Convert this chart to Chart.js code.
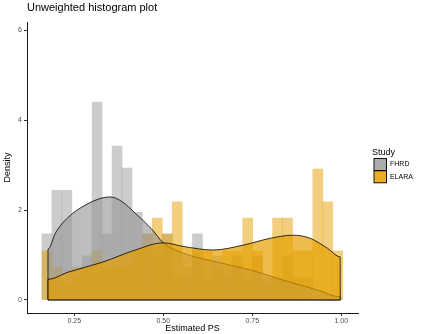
<!DOCTYPE html>
<html>
<head>
<meta charset="utf-8">
<script src="https://cdn.jsdelivr.net/npm/chart.js@4"></script>
<style>
  html, body { margin: 0; padding: 0; background: #fff; }
</style>
</head>
<body>
<canvas id="myChart" width="423" height="334"></canvas>
<script>
const chartTitle = "Unweighted histogram plot";
const legendTitle = "Study";
const studyNames = ["FHRD", "ELARA"];

// histogram bin centres (30 bins)
const binCenters = [
  0.173, 0.201, 0.229, 0.258, 0.286, 0.314, 0.342, 0.370, 0.398, 0.427,
  0.455, 0.483, 0.511, 0.539, 0.567, 0.596, 0.624, 0.652, 0.680, 0.708,
  0.737, 0.765, 0.793, 0.821, 0.849, 0.878, 0.906, 0.934, 0.962, 0.990,
];
const fhrdHist = [
  1.47, 2.44, 2.44, 0.49, 0.98, 4.40, 1.47, 3.42, 2.93, 1.95,
  1.47, 0.98, 1.47, 0.49, 0.49, 1.47, 0.49, 0.98, 0.49, 0.98,
  0.49, 0.98, 0.49, 0.49, 0.98, 0.49, 0.49, 0, 0, 0,
];
const elaraHist = [
  1.09, 0.73, 0.36, 0.73, 0.73, 1.09, 0.73, 0.73, 0.73, 1.09,
  1.46, 1.82, 1.46, 2.18, 0.73, 1.09, 1.09, 0.73, 1.09, 1.09,
  1.82, 1.09, 0.36, 1.82, 1.82, 1.09, 1.09, 2.91, 2.18, 1.09,
];

// density curves (x, density), closed down to zero at both ends
const fhrdDensX = [0.176, 0.176, 0.197, 0.233, 0.281, 0.329, 0.351, 0.385, 0.421, 0.469, 0.5, 0.556, 0.652, 0.744, 0.837, 0.933, 0.997, 0.997];
const fhrdDensY = [0, 1.13, 1.49, 1.84, 2.11, 2.27, 2.29, 2.18, 1.93, 1.56, 1.27, 1.04, 0.84, 0.67, 0.44, 0.22, 0.07, 0];
const elaraDensX = [0.176, 0.176, 0.233, 0.329, 0.421, 0.5, 0.556, 0.640, 0.725, 0.8, 0.865, 0.913, 0.961, 0.997, 0.997];
const elaraDensY = [0, 0.46, 0.62, 0.84, 1.11, 1.27, 1.19, 1.11, 1.22, 1.37, 1.44, 1.37, 1.15, 0.96, 0];

const xTicks = [0.25, 0.5, 0.75, 1.0];
const yTicks = [0, 2, 4, 6];

const barFills = ["rgba(153,153,153,0.5)", "rgba(230,159,0,0.5)"];
const densFills = ["rgba(153,153,153,0.65)", "rgba(230,159,0,0.7)"];

const toPoints = (xs, ys) => xs.map((x, i) => ({ x: x, y: ys[i] }));

const histDataset = (label, values, color, order) => {
  return {
    type: "bar",
    label: label,
    data: toPoints(binCenters, values),
    backgroundColor: color,
    borderWidth: 0,
    grouped: false,
    barPercentage: 1,
    categoryPercentage: 1,
    order: order,
  };
};

const densDataset = (label, xs, ys, color, order) => {
  return {
    type: "line",
    label: label,
    data: toPoints(xs, ys),
    backgroundColor: color,
    borderColor: "#000",
    borderWidth: 0.8,
    pointRadius: 0,
    fill: "origin",
    cubicInterpolationMode: "monotone",
    order: order,
  };
};

// bottom edge of the density polygon
const baseDataset = (label, xs, order) => {
  return {
    type: "line",
    label: label,
    data: [
      { x: xs[0], y: 0 },
      { x: xs[xs.length - 1], y: 0 },
    ],
    borderColor: "#000",
    borderWidth: 0.8,
    pointRadius: 0,
    fill: false,
    order: order,
  };
};

// title + legend drawn like ggplot
const ggDecor = {
  id: "ggDecor",
  afterDraw: (chart) => {
    const ctx = chart.ctx;
    ctx.save();
    ctx.textBaseline = "middle";
    ctx.fillStyle = "#000";
    ctx.font = "11px 'Liberation Sans'";
    ctx.fillText(chartTitle, 27, 8);

    ctx.font = "9px 'Liberation Sans'";
    ctx.fillText(legendTitle, 372, 153);
    studyNames.forEach((name, i) => {
      const top = 158.5 + i * 12.3;
      ctx.fillStyle = barFills[i];
      ctx.fillRect(374, top, 12.5, 12);
      ctx.fillStyle = densFills[i];
      ctx.fillRect(374, top, 12.5, 12);
      ctx.strokeStyle = "#000";
      ctx.lineWidth = 0.9;
      ctx.strokeRect(374, top, 12.5, 12);
      ctx.fillStyle = "#000";
      ctx.font = "7px 'Liberation Sans'";
      ctx.fillText(name, 390, top + 6);
    });
    ctx.restore();
  },
};

const axisTickFont = { family: "Liberation Sans", size: 7 };
const axisTitleFont = { family: "Liberation Sans", size: 9 };

new Chart(document.getElementById("myChart"), {
  data: {
    datasets: [
      baseDataset("ELARA base", elaraDensX, 0),
      densDataset(studyNames[1], elaraDensX, elaraDensY, densFills[1], 1),
      baseDataset("FHRD base", fhrdDensX, 2),
      densDataset(studyNames[0], fhrdDensX, fhrdDensY, densFills[0], 3),
      histDataset(studyNames[1], elaraHist, barFills[1], 4),
      histDataset(studyNames[0], fhrdHist, barFills[0], 5),
    ],
  },
  options: {
    responsive: false,
    animation: false,
    layout: { padding: { left: 0, top: 22, right: 65, bottom: 0 } },
    plugins: {
      legend: { display: false },
      tooltip: { enabled: false },
    },
    scales: {
      x: {
        type: "linear",
        min: 0.117,
        max: 1.047,
        offset: false,
        afterBuildTicks: (axis) => {
          axis.ticks = xTicks.map((v) => ({ value: v }));
        },
        afterFit: (axis) => {
          axis.height = 21;
        },
        ticks: {
          autoSkip: false,
          maxRotation: 0,
          padding: 1,
          color: "#4d4d4d",
          font: axisTickFont,
          callback: (v) => v.toFixed(2),
        },
        grid: { display: true, offset: false, drawOnChartArea: false, drawTicks: true, tickLength: 3, color: "#333" },
        border: { display: true, color: "#000", width: 0.9 },
        title: { display: true, text: "Estimated PS", color: "#000", font: axisTitleFont, padding: 0 },
      },
      y: {
        type: "linear",
        min: -0.29,
        max: 6.18,
        afterBuildTicks: (axis) => {
          axis.ticks = yTicks.map((v) => ({ value: v }));
        },
        afterFit: (axis) => {
          axis.width = 27;
        },
        ticks: {
          padding: 2,
          color: "#4d4d4d",
          font: axisTickFont,
        },
        grid: { display: true, drawOnChartArea: false, drawTicks: true, tickLength: 3, color: "#333" },
        border: { display: true, color: "#000", width: 0.9 },
        title: { display: true, text: "Density", color: "#000", font: axisTitleFont, padding: 2 },
      },
    },
  },
  plugins: [ggDecor],
});
</script>
</body>
</html>
